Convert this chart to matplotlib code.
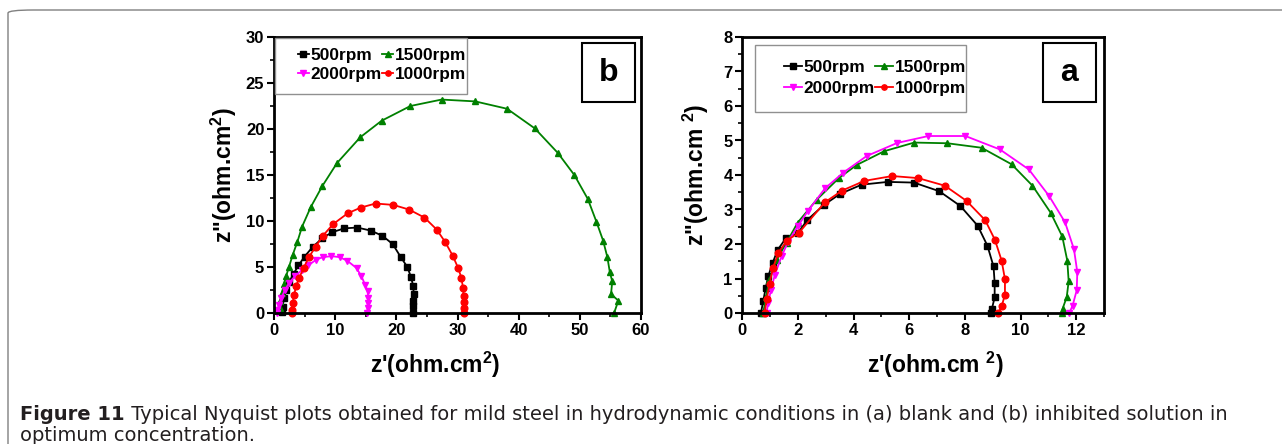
import matplotlib
matplotlib.use("Agg")
import matplotlib.pyplot as plt
from matplotlib.patches import Rectangle, FancyBboxPatch
from matplotlib.ticker import MultipleLocator

plt.rcParams['font.family'] = ['Liberation Sans', 'DejaVu Sans']
plt.rcParams['font.weight'] = 'bold'
plt.rcParams['axes.labelweight'] = 'bold'
plt.rcParams['mathtext.fontset'] = 'custom'
plt.rcParams['mathtext.rm'] = 'Liberation Sans:bold'
plt.rcParams['mathtext.bf'] = 'Liberation Sans:bold'
plt.rcParams['mathtext.default'] = 'bf'

# ---- Panel (b): inhibited solution ----
b_500_x = [22.75, 22.8, 22.8, 22.85, 22.75, 22.4, 21.8, 20.7, 19.4, 17.7, 15.8, 13.6,
           11.5, 9.5, 7.9, 6.3, 5.0, 4.0, 3.2, 2.5, 2.0, 1.65, 1.4, 1.3]
b_500_y = [0.0, 0.72, 1.27, 2.06, 2.96, 3.9, 5.0, 6.1, 7.5, 8.4, 8.96, 9.29,
           9.2, 8.78, 8.13, 7.16, 6.14, 5.17, 4.27, 3.4, 2.5, 1.6, 0.7, 0.07]
b_1500_x = [55.6, 56.3, 55.1, 55.3, 54.9, 54.5, 53.8, 52.7, 51.3, 49.1, 46.4, 42.65,
            38.1, 32.9, 27.4, 22.3, 17.6, 14.1, 10.3, 7.9, 6.0, 4.6, 3.8, 3.05,
            2.45, 2.0, 1.6, 1.3, 1.05, 0.9]
b_1500_y = [0.0, 1.34, 2.06, 3.43, 4.45, 6.07, 7.88, 9.94, 12.4, 15.0, 17.4, 20.06,
            22.2, 23.0, 23.2, 22.5, 20.9, 19.1, 16.3, 13.8, 11.5, 9.4, 7.7, 6.3,
            5.0, 4.05, 3.1, 2.2, 1.3, 0.55]
b_2000_x = [15.2, 15.3, 15.3, 15.4, 15.3, 14.9, 14.3, 13.5, 12.0, 10.75, 9.4, 8.0,
            6.9, 5.6, 4.5, 3.4, 2.45, 1.75, 1.2, 0.8, 0.55, 0.45]
b_2000_y = [0.0, 0.54, 1.08, 1.63, 2.35, 3.07, 3.98, 4.88, 5.67, 6.07, 6.18, 6.07,
            5.8, 5.17, 4.63, 3.98, 3.25, 2.46, 1.63, 0.9, 0.36, 0.0]
b_1000_x = [31.0, 31.0, 31.0, 31.0, 30.9, 30.65, 30.1, 29.2, 28.0, 26.6, 24.6, 22.1,
            19.5, 16.6, 14.2, 12.05, 9.65, 8.0, 6.8, 5.7, 4.85, 4.1, 3.6, 3.3,
            3.05, 2.95, 2.9]
b_1000_y = [0.0, 0.54, 1.16, 1.88, 2.7, 3.8, 4.9, 6.25, 7.7, 9.07, 10.37, 11.24,
            11.75, 11.9, 11.46, 10.84, 9.65, 8.4, 7.2, 6.07, 4.9, 3.8, 2.9, 2.0,
            1.08, 0.36, 0.0]

# ---- Panel (a): blank solution ----
a_500_x = [0.67, 0.75, 0.84, 0.93, 1.09, 1.27, 1.57, 1.99, 2.34, 2.93, 3.51, 4.29,
           5.23, 6.17, 7.08, 7.84, 8.46, 8.81, 9.03, 9.07, 9.07, 8.97, 8.93]
a_500_y = [0.0, 0.34, 0.72, 1.06, 1.45, 1.83, 2.17, 2.31, 2.7, 3.13, 3.45, 3.72,
           3.80, 3.78, 3.53, 3.10, 2.53, 1.95, 1.35, 0.87, 0.45, 0.12, 0.0]
a_1500_x = [0.75, 0.85, 0.97, 1.23, 1.59, 1.99, 2.67, 3.47, 4.11, 5.10, 6.18, 7.37,
            8.6, 9.68, 10.43, 11.08, 11.5, 11.68, 11.73, 11.66, 11.51, 11.48]
a_1500_y = [0.0, 0.45, 0.96, 1.54, 2.04, 2.62, 3.28, 3.91, 4.29, 4.69, 4.94, 4.92,
            4.79, 4.31, 3.69, 2.91, 2.22, 1.52, 0.92, 0.46, 0.12, 0.0]
a_2000_x = [0.87, 0.93, 1.03, 1.17, 1.41, 1.65, 1.99, 2.37, 2.97, 3.63, 4.47, 5.57,
            6.69, 8.02, 9.26, 10.3, 11.02, 11.6, 11.92, 12.04, 12.02, 11.87, 11.75]
a_2000_y = [0.0, 0.29, 0.67, 1.11, 1.64, 2.07, 2.51, 2.97, 3.61, 4.07, 4.55, 4.93,
            5.13, 5.13, 4.74, 4.16, 3.40, 2.63, 1.85, 1.19, 0.66, 0.21, 0.0]
a_1000_x = [0.8, 0.88, 0.98, 1.1, 1.3, 1.6, 2.04, 2.97, 3.59, 4.39, 5.39, 6.32,
            7.28, 8.06, 8.73, 9.08, 9.32, 9.44, 9.44, 9.32, 9.2]
a_1000_y = [0.0, 0.4, 0.85, 1.3, 1.75, 2.1, 2.33, 3.21, 3.55, 3.83, 3.97, 3.91,
            3.69, 3.25, 2.69, 2.12, 1.52, 0.98, 0.53, 0.19, 0.0]

labels = ['500rpm', '1500rpm', '2000rpm', '1000rpm']
colors = ['black', '#008000', '#ff00ff', '#ff0000']
markers = ['s', '^', 'v', 'o']

W, H = 1282, 444
fig = plt.figure(figsize=(W / 100, H / 100), dpi=100)

# rounded outer frame of the figure panel
frame = FancyBboxPatch((8 / W, -0.2), 1.2, (H - 10) / H + 0.2,
                       boxstyle="round,pad=0,rounding_size=0.02",
                       transform=fig.transFigure, fill=False,
                       edgecolor='#808080', linewidth=1.0, mutation_aspect=H / W)
fig.patches.append(frame)

MAIN = ['Liberation Sans', 'DejaVu Sans']


def panel(rect, series, xlim, ylim, xmaj, xmin, ymaj, ymin, xlabel, ylabel,
          tag, tagbox, legbox, leganchor, handlelen, labsp, xlab_x, ylab_pad):
    ax = fig.add_axes(rect)
    handles = []
    for (xs, ys), lab, c, m in zip(series, labels, colors, markers):
        h, = ax.plot(xs, ys, color=c, marker=m, markersize=4.8, linewidth=1.3,
                     label=lab, clip_on=False)
        handles.append(h)
    ax.set_xlim(*xlim)
    ax.set_ylim(*ylim)
    ax.xaxis.set_major_locator(MultipleLocator(xmaj))
    ax.xaxis.set_minor_locator(MultipleLocator(xmin))
    ax.yaxis.set_major_locator(MultipleLocator(ymaj))
    ax.yaxis.set_minor_locator(MultipleLocator(ymin))
    ax.tick_params(which='major', direction='out', length=5, width=1.5,
                   labelsize=12, pad=2)
    ax.tick_params(which='minor', direction='out', length=3, width=1.2)
    for lbl in ax.get_xticklabels() + ax.get_yticklabels():
        lbl.set_fontweight('bold')
        lbl.set_family(MAIN)
    for s in ax.spines.values():
        s.set_linewidth(2.0)
    ax.set_xlabel(xlabel, fontsize=16.5, fontweight='bold', family=MAIN)
    ax.xaxis.set_label_coords(xlab_x, -0.135)
    ax.set_ylabel(ylabel, fontsize=16.5, labelpad=ylab_pad, fontweight='bold',
                  family=MAIN)

    # legend box and entries
    x0, x1, y0, y1 = legbox
    ax.add_patch(Rectangle((x0, y0), x1 - x0, y1 - y0, transform=ax.transAxes,
                           fill=False, edgecolor='#909090', linewidth=1.0,
                           zorder=5))
    order = [0, 2, 1, 3]
    ax.legend([handles[i] for i in order], [labels[i] for i in order],
              ncol=2, loc='upper left', bbox_to_anchor=leganchor,
              frameon=False, borderpad=0, borderaxespad=0,
              handlelength=handlelen, handletextpad=0.1, columnspacing=0.0,
              labelspacing=labsp, markerscale=0.8,
              prop={'weight': 'bold', 'size': 12.4, 'family': MAIN})

    # panel tag
    tx0, tx1, ty0, ty1 = tagbox
    ax.add_patch(Rectangle((tx0, ty0), tx1 - tx0, ty1 - ty0, transform=ax.transAxes,
                           fill=False, edgecolor='black', linewidth=1.5, zorder=5))
    ax.text((tx0 + tx1) / 2, (ty0 + ty1) / 2, tag, transform=ax.transAxes,
            ha='center', va='center', fontsize=23, fontweight='bold', family=MAIN)
    return ax


ax_b = panel([274 / W, 1 - 313 / H, 367 / W, 276 / H],
             [(b_500_x, b_500_y), (b_1500_x, b_1500_y),
              (b_2000_x, b_2000_y), (b_1000_x, b_1000_y)],
             (0, 60), (0, 30), 10, 5, 5, 2.5,
             "z'(ohm.cm$^2$)", 'z"(ohm.cm$^2$)', 'b',
             (0.839, 0.984, 0.764, 0.978),
             (0.003, 0.526, 0.793, 0.996), (0.065, 0.96), 0.65, 0.25,
             0.439, 5)

ax_a = panel([742.3 / W, 1 - 313 / H, 361.7 / W, 276 / H],
             [(a_500_x, a_500_y), (a_1500_x, a_1500_y),
              (a_2000_x, a_2000_y), (a_1000_x, a_1000_y)],
             (0, 13), (0, 8), 2, 1, 1, 0.5,
             "z'(ohm.cm $^2$)", 'z"(ohm.cm $^2$)', 'a',
             (0.831, 0.978, 0.764, 0.978),
             (0.035, 0.618, 0.728, 0.971), (0.115, 0.918), 1.05, 0.35,
             0.533, 9)

# caption
cap_ax = fig.add_axes([0, 0, 1, 1])
cap_ax.set_axis_off()
cap_ax.set_xlim(0, W)
cap_ax.set_ylim(H, 0)
cap_font = ['DejaVu Sans']
cap_size = 14.0
cap_color = '#231f20'
t1 = cap_ax.text(20, 420, 'Figure 11', fontsize=cap_size, fontweight='bold',
                 family=cap_font, va='baseline', ha='left', color=cap_color)
fig.canvas.draw()
bold_w = t1.get_window_extent().width
cap_ax.text(20 + bold_w, 420,
            ' Typical Nyquist plots obtained for mild steel in hydrodynamic '
            'conditions in (a) blank and (b) inhibited solution in',
            fontsize=cap_size, fontweight='normal', family=cap_font,
            va='baseline', ha='left', color=cap_color)
cap_ax.text(20, 441, 'optimum concentration.', fontsize=cap_size,
            fontweight='normal', family=cap_font, va='baseline', ha='left',
            color=cap_color)

fig.savefig('out.png', dpi=100)
